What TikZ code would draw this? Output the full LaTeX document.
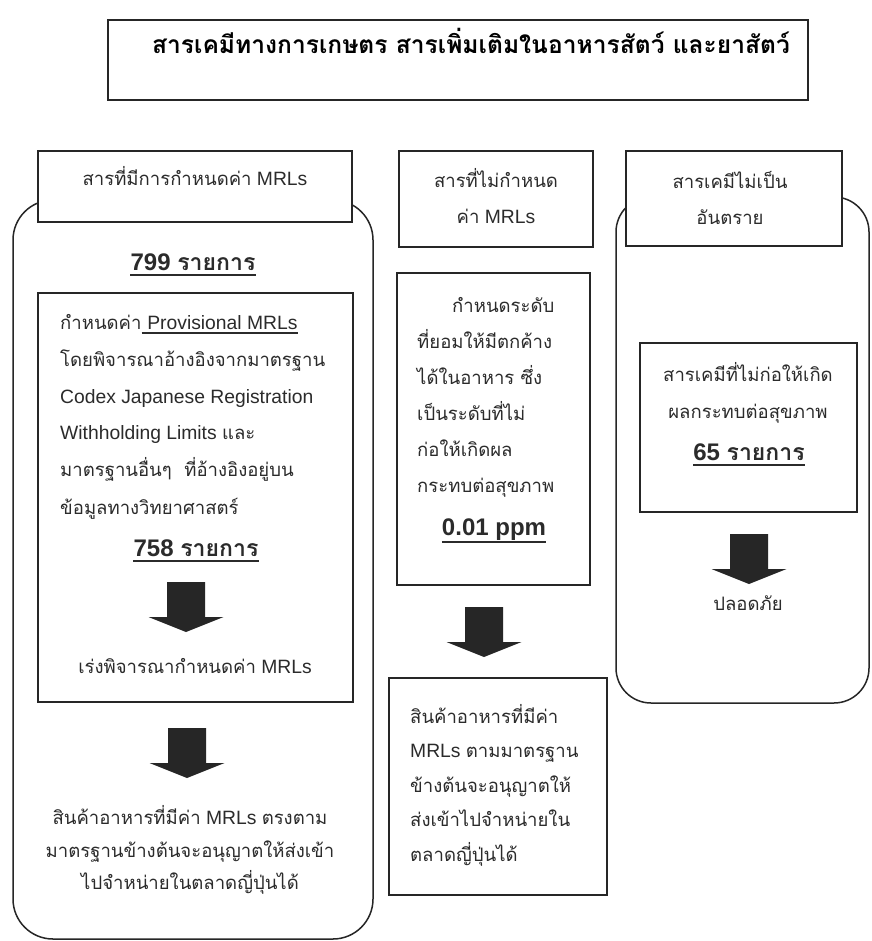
\documentclass[tikz,border=0pt]{standalone}
\usepackage{fontspec}
\setmainfont{Liberation Sans}
\newfontfamily\thaifont[Script=Thai,Scale=0.96]{Loma}
\newcommand\T[1]{{\thaifont #1}}
\definecolor{lc}{HTML}{262626}
\definecolor{tc}{HTML}{2B2B2B}
\begin{document}
\begin{tikzpicture}[x=1pt,y=-1pt,
  frame/.style={draw=lc,line width=1.5pt},
  tab/.style={frame,fill=white,inner sep=0pt},
  txt/.style={inner sep=0pt,text=tc,font=\fontsize{19.3}{37}\selectfont},
  big/.style={inner sep=0pt,text=tc,font=\fontsize{24}{30}\selectfont\bfseries},
  ul/.style={draw=tc,line width=1.8pt},
  blockarrow/.pic={\fill[lc] (-19,0) -- (19,0) -- (19,35) -- (37.5,35) -- (0,50) -- (-37.5,35) -- (-19,35) -- cycle;}]
\useasboundingbox (0,0) rectangle (871,941);
\fill[white] (0,0) rectangle (871,941);

% title
\node[frame,inner sep=0pt,minimum width=700,minimum height=80] (title) at (458,60) {};
\node[inner sep=0pt,anchor=base,font=\fontsize{25.6}{30}\selectfont\bfseries] (titletext) at (471,54)
  {\T{สารเคมีทางการเกษตร สารเพิ่มเติมในอาหารสัตว์ และยาสัตว์}};

% outer rounded frames
\draw[frame,rounded corners=40pt] (13,200) rectangle (373,939);
\draw[frame,rounded corners=35pt] (616,197) rectangle (869,703);

% headers
\node[tab,minimum width=314,minimum height=71] (h1) at (195,186.5) {};
\node[txt,anchor=base] (h1t) at (195,186) {\T{สารที่มีการกำหนดค่า} MRLs};
\node[tab,minimum width=194,minimum height=96] (h2) at (496,199) {};
\node[txt,anchor=base] (h2a) at (496,188) {\T{สารที่ไม่กำหนด}};
\node[txt,anchor=base] (h2b) at (496,224) {\T{ค่า} MRLs};
\node[tab,minimum width=216,minimum height=95] (h3) at (734,198.5) {};
\node[txt,anchor=base] (h3a) at (730,189) {\T{สารเคมีไม่เป็น}};
\node[txt,anchor=base] (h3b) at (730,225) {\T{อันตราย}};

% left column
\node[big,anchor=base] (n799) at (193,270) {799 \T{รายการ}};
\draw[ul] ([yshift=-5pt]n799.base west) -- ([yshift=-5pt]n799.base east);
\node[frame,inner sep=0pt,minimum width=315,minimum height=409] (lbox) at (195.5,497.5) {};
\node[txt,anchor=base west] (l1a) at (60,329) {\T{กำหนดค่า}};
\node[txt,anchor=base west] (l1b) at (l1a.base east) {\hspace*{0.28em}Provisional MRLs};
\draw[draw=tc,line width=1.2pt] ([yshift=-4pt]l1b.base west) -- ([yshift=-4pt]l1b.base east);
\node[txt,anchor=base west] (l2) at (60,366) {\T{โดยพิจารณาอ้างอิงจากมาตรฐาน}};
\node[txt,anchor=base west] (l3) at (60,403) {Codex Japanese Registration};
\node[txt,anchor=base west] (l4) at (60,439) {Withholding Limits \T{และ}};
\node[txt,anchor=base west] (l5) at (60,476) {\T{มาตรฐานอื่นๆ \ ที่อ้างอิงอยู่บน}};
\node[txt,anchor=base west] (l6) at (60,514) {\T{ข้อมูลทางวิทยาศาสตร์}};
\node[big,anchor=base] (n758) at (196,556) {758 \T{รายการ}};
\draw[ul] ([yshift=-5pt]n758.base west) -- ([yshift=-5pt]n758.base east);
\pic (a1) at (186,582) {blockarrow};
\node[txt,anchor=base] (l7) at (195,673) {\T{เร่งพิจารณากำหนดค่า} MRLs};
\pic (a2) at (187,728) {blockarrow};
\node[txt,anchor=base] (l8) at (190,824) {\T{สินค้าอาหารที่มีค่า} MRLs \T{ตรงตาม}};
\node[txt,anchor=base] (l9) at (190,857) {\T{มาตรฐานข้างต้นจะอนุญาตให้ส่งเข้า}};
\node[txt,anchor=base] (l10) at (190,889) {\T{ไปจำหน่ายในตลาดญี่ปุ่นได้}};

% middle column
\node[frame,inner sep=0pt,minimum width=193,minimum height=312] (mbox) at (493.5,429) {};
\node[txt,anchor=base west] (m1) at (452,312) {\T{กำหนดระดับ}};
\node[txt,anchor=base west] (m2) at (417,348) {\T{ที่ยอมให้มีตกค้าง}};
\node[txt,anchor=base west] (m3) at (417,384) {\T{ได้ในอาหาร ซึ่ง}};
\node[txt,anchor=base west] (m4) at (417,420) {\T{เป็นระดับที่ไม่}};
\node[txt,anchor=base west] (m5) at (417,456) {\T{ก่อให้เกิดผล}};
\node[txt,anchor=base west] (m6) at (417,492) {\T{กระทบต่อสุขภาพ}};
\node[big,anchor=base] (nppm) at (494,535) {0.01 ppm};
\draw[ul] ([yshift=-7pt]nppm.base west) -- ([yshift=-7pt]nppm.base east);
\pic (a3) at (484,607) {blockarrow};
\node[frame,inner sep=0pt,minimum width=218,minimum height=217] (mbot) at (498,786.5) {};
\node[txt,anchor=base west] (b1) at (410,723) {\T{สินค้าอาหารที่มีค่า}};
\node[txt,anchor=base west] (b2) at (410,757.5) {MRLs \T{ตามมาตรฐาน}};
\node[txt,anchor=base west] (b3) at (410,792) {\T{ข้างต้นจะอนุญาตให้}};
\node[txt,anchor=base west] (b4) at (410,826.5) {\T{ส่งเข้าไปจำหน่ายใน}};
\node[txt,anchor=base west] (b5) at (410,861) {\T{ตลาดญี่ปุ่นได้}};

% right column
\node[frame,inner sep=0pt,minimum width=217,minimum height=169] (rbox) at (748.5,427.5) {};
\node[txt,anchor=base] (r1) at (748,381) {\T{สารเคมีที่ไม่ก่อให้เกิด}};
\node[txt,anchor=base] (r2) at (748,418) {\T{ผลกระทบต่อสุขภาพ}};
\node[big,anchor=base] (n65) at (749,460) {65 \T{รายการ}};
\draw[ul] ([yshift=-5pt]n65.base west) -- ([yshift=-5pt]n65.base east);
\pic (a4) at (749,534) {blockarrow};
\node[txt,anchor=base] (r3) at (748,610) {\T{ปลอดภัย}};
\end{tikzpicture}
\end{document}
